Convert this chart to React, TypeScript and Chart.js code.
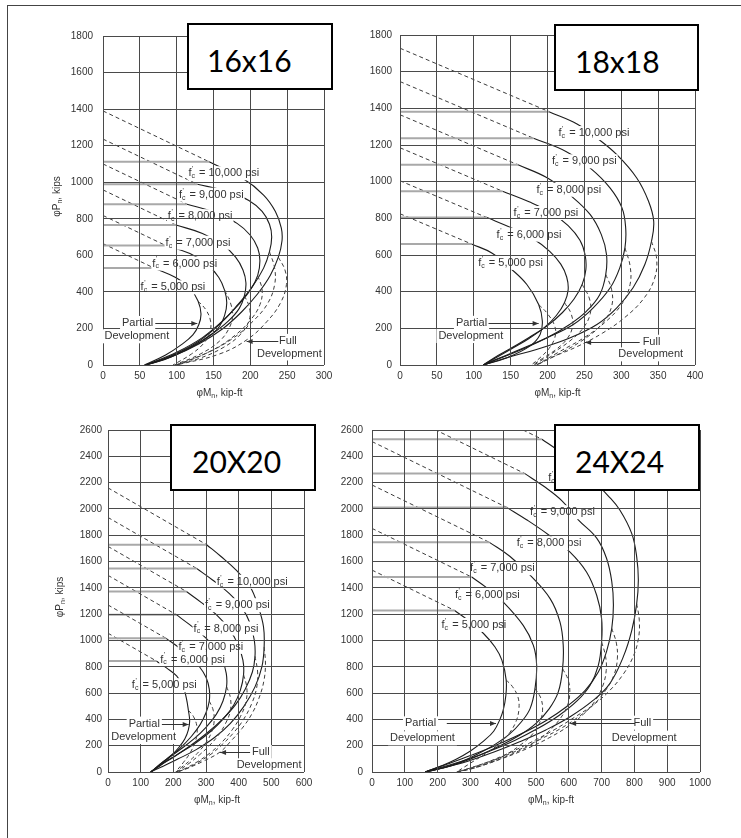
import React, { useEffect, useRef } from "react";
import { Chart, registerables } from "chart.js";
Chart.register(...registerables);

type Pt = [number, number];

const strengthLabels = ["5,000", "6,000", "7,000", "8,000", "9,000", "10,000"];

// ---------- 16x16 ----------
const xTicks16 = [0, 50, 100, 150, 200, 250, 300];
const yTicks16 = [0, 200, 400, 600, 800, 1000, 1200, 1400, 1600, 1800];
const axialTop16 = [664, 818, 958, 1100, 1236, 1390];
const capEnd16: Pt[] = [[69, 531], [85, 654], [99, 766], [114, 880], [128, 989], [144, 1112]];
const partial16: Pt[][] = [
  [[69, 531], [98, 480], [118, 420], [129, 350], [133, 280], [130, 220], [122, 165], [106, 110], [85, 55], [56, 0]],
  [[85, 654], [118, 610], [142, 550], [157, 480], [165, 410], [168, 340], [165, 270], [156, 200], [138, 140], [112, 80], [84, 30], [57, 0]],
  [[99, 766], [135, 720], [162, 660], [180, 590], [190, 520], [194, 450], [192, 380], [185, 310], [170, 240], [148, 170], [120, 100], [88, 40], [58, 0]],
  [[114, 880], [152, 835], [182, 775], [200, 710], [210, 640], [213, 570], [210, 490], [200, 410], [184, 330], [162, 240], [135, 150], [100, 70], [58, 0]],
  [[128, 989], [168, 950], [198, 900], [216, 840], [226, 770], [229, 700], [226, 620], [218, 530], [203, 430], [183, 330], [160, 230], [130, 130], [95, 55], [58, 0]],
  [[144, 1112], [190, 1020], [218, 930], [234, 840], [242, 750], [243, 680], [238, 590], [227, 490], [210, 390], [188, 290], [163, 200], [130, 115], [93, 45], [58, 0]],
];
const full16: Pt[][] = [
  [[129, 350], [140, 300], [146, 240], [145, 180], [137, 120], [120, 60], [95, 0]],
  [[165, 410], [173, 340], [176, 270], [171, 200], [158, 130], [132, 60], [97, 0]],
  [[192, 380], [199, 310], [198, 240], [186, 165], [163, 95], [130, 35], [98, 0]],
  [[210, 490], [216, 410], [213, 330], [201, 250], [180, 165], [148, 80], [100, 0]],
  [[226, 620], [233, 530], [233, 440], [224, 340], [205, 245], [176, 145], [138, 60], [100, 0]],
  [[238, 590], [247, 520], [249, 440], [241, 340], [223, 240], [196, 140], [158, 60], [100, 0]],
];
const fcLabelAt16: Pt[] = [[51, 425], [67, 555], [85, 669], [88, 814], [103, 932], [116, 1049]];
const partialText16: Pt[] = [[47, 230], [46, 157]];
const partialArrow16 = [71, 128, 230];
const fullText16: Pt[] = [[251, 132], [253, 63]];
const fullArrow16 = [238, 195, 132];

// ---------- 18x18 ----------
const xTicks18 = [0, 50, 100, 150, 200, 250, 300, 350, 400];
const yTicks18 = [0, 200, 400, 600, 800, 1000, 1200, 1400, 1600, 1800];
const axialTop18 = [825, 1005, 1185, 1365, 1546, 1728];
const capEnd18: Pt[] = [[97, 660], [118, 804], [139, 948], [160, 1092], [181, 1237], [202, 1382]];
const partial18: Pt[][] = [
  [[97, 660], [125, 610], [149, 530], [172, 439], [188, 330], [193, 240], [190, 167], [176, 103], [145, 40], [113, 0]],
  [[118, 804], [150, 750], [180, 690], [203, 620], [218, 550], [226, 480], [228, 410], [223, 340], [212, 270], [196, 205], [175, 145], [152, 90], [130, 40], [113, 0]],
  [[139, 948], [175, 890], [205, 830], [228, 760], [244, 680], [251, 600], [252, 520], [247, 440], [236, 360], [220, 285], [200, 215], [175, 150], [150, 90], [128, 40], [113, 0]],
  [[160, 1092], [200, 1020], [230, 929], [258, 820], [273, 711], [280, 603], [279, 494], [271, 385], [253, 294], [230, 221], [200, 150], [165, 85], [135, 35], [113, 0]],
  [[181, 1237], [225, 1165], [258, 1074], [285, 965], [301, 857], [306, 748], [305, 639], [298, 530], [285, 421], [262, 312], [235, 221], [200, 150], [160, 80], [133, 35], [113, 0]],
  [[202, 1382], [240, 1315], [267, 1238], [294, 1147], [321, 1020], [337, 893], [344, 784], [341, 675], [332, 548], [316, 421], [294, 312], [267, 221], [231, 149], [185, 85], [145, 40], [113, 0]],
];
const full18: Pt[][] = [
  [[188, 330], [200, 280], [210, 210], [210, 150], [202, 90], [190, 40], [178, 0]],
  [[223, 340], [232, 280], [234, 210], [226, 140], [210, 80], [193, 35], [180, 0]],
  [[247, 440], [257, 360], [258, 280], [248, 200], [230, 130], [205, 60], [182, 0]],
  [[279, 494], [287, 410], [287, 320], [275, 230], [253, 150], [220, 70], [185, 0]],
  [[305, 639], [312, 540], [312, 440], [302, 340], [280, 240], [250, 150], [215, 70], [185, 0]],
  [[341, 675], [348, 580], [345, 470], [330, 360], [305, 260], [275, 175], [240, 100], [205, 40], [186, 0]],
];
const fcLabelAt18: Pt[] = [[106, 557], [131, 711], [154, 829], [185, 956], [206, 1111], [215, 1265]];
const partialText18: Pt[] = [[97, 230], [96, 158]];
const partialArrow18 = [120, 188, 230];
const fullText18: Pt[] = [[341, 127], [340, 58]];
const fullArrow18 = [325, 251, 127];

// ---------- 20x20 ----------
const xTicks20 = [0, 100, 200, 300, 400, 500, 600];
const yTicks20 = [0, 200, 400, 600, 800, 1000, 1200, 1400, 1600, 1800, 2000, 2200, 2400, 2600];
const axialTop20 = [1055, 1270, 1495, 1715, 1935, 2160];
const capEnd20: Pt[] = [[148, 844], [178, 1016], [209, 1196], [240, 1372], [271, 1548], [302, 1728]];
const partial20: Pt[][] = [
  [[148, 844], [180, 790], [210, 730], [230, 650], [240, 560], [246, 470], [250, 390], [246, 320], [235, 250], [218, 190], [192, 120], [162, 55], [132, 0]],
  [[178, 1016], [215, 950], [250, 880], [280, 800], [300, 720], [310, 630], [310, 540], [300, 450], [282, 360], [255, 270], [220, 180], [180, 100], [150, 40], [132, 0]],
  [[209, 1196], [250, 1120], [290, 1040], [325, 950], [350, 850], [362, 750], [363, 650], [352, 540], [332, 440], [300, 340], [262, 250], [215, 160], [170, 80], [132, 0]],
  [[240, 1372], [285, 1290], [330, 1200], [370, 1090], [398, 970], [413, 850], [415, 740], [405, 620], [385, 510], [355, 410], [315, 310], [265, 215], [210, 130], [165, 60], [131, 0]],
  [[271, 1548], [320, 1460], [370, 1360], [410, 1250], [435, 1130], [448, 1000], [450, 880], [442, 760], [420, 630], [390, 510], [350, 400], [305, 300], [255, 205], [205, 120], [160, 50], [130, 0]],
  [[302, 1728], [345, 1640], [390, 1540], [435, 1408], [460, 1256], [476, 1104], [478, 951], [471, 799], [450, 647], [415, 495], [374, 368], [325, 260], [270, 170], [215, 100], [165, 40], [130, 0]],
];
const full20: Pt[][] = [
  [[246, 470], [262, 420], [272, 350], [272, 280], [264, 210], [250, 140], [230, 70], [207, 0]],
  [[310, 540], [322, 470], [325, 390], [318, 310], [302, 230], [280, 160], [252, 90], [225, 35], [208, 0]],
  [[363, 650], [375, 560], [374, 460], [360, 370], [338, 280], [310, 200], [280, 130], [248, 65], [210, 0]],
  [[415, 740], [425, 640], [422, 530], [405, 420], [380, 320], [350, 230], [315, 150], [275, 80], [235, 25], [210, 0]],
  [[450, 880], [458, 760], [455, 640], [440, 520], [415, 400], [385, 300], [350, 210], [315, 135], [270, 65], [235, 20], [210, 0]],
  [[478, 951], [482, 820], [477, 690], [462, 560], [440, 440], [410, 330], [378, 240], [343, 152], [290, 80], [245, 30], [212, 0]],
];
const fcLabelAt20: Pt[] = [[73, 660], [160, 855], [216, 951], [262, 1091], [297, 1268], [333, 1446]];
const partialText20: Pt[] = [[111, 368], [109, 266]];
const partialArrow20 = [165, 247, 368];
const fullText20: Pt[] = [[468, 152], [493, 51]];
const fullArrow20 = [435, 343, 152];

// ---------- 24x24 ----------
const xTicks24 = [0, 100, 200, 300, 400, 500, 600, 700, 800, 900, 1000];
const yTicks24 = [0, 200, 400, 600, 800, 1000, 1200, 1400, 1600, 1800, 2000, 2200, 2400, 2600];
const axialTop24 = [1535, 1852, 2182, 2512, 2837, 3162];
const capEnd24: Pt[] = [[252, 1228], [304, 1482], [358, 1746], [412, 2010], [465, 2270], [518, 2530]];
const partial24: Pt[][] = [
  [[252, 1228], [295, 1150], [340, 1053], [375, 950], [396, 850], [409, 700], [408, 580], [400, 470], [390, 400], [371, 310], [340, 235], [300, 160], [255, 95], [210, 45], [162, 0]],
  [[304, 1482], [350, 1400], [400, 1293], [461, 1115], [492, 963], [502, 811], [497, 634], [482, 482], [455, 380], [420, 290], [375, 210], [325, 140], [270, 75], [215, 30], [162, 0]],
  [[358, 1746], [420, 1640], [482, 1496], [543, 1318], [573, 1141], [583, 963], [581, 786], [568, 609], [540, 480], [500, 370], [450, 280], [390, 200], [330, 130], [270, 70], [215, 30], [162, 0]],
  [[412, 2010], [470, 1920], [540, 1800], [603, 1674], [654, 1521], [685, 1344], [700, 1166], [700, 989], [690, 811], [665, 660], [625, 540], [570, 430], [505, 330], [435, 240], [360, 160], [290, 95], [225, 45], [162, 0]],
  [[465, 2270], [525, 2170], [580, 2060], [629, 1917], [685, 1778], [715, 1625], [731, 1448], [736, 1270], [731, 1092], [715, 915], [690, 760], [650, 620], [595, 500], [530, 390], [455, 290], [375, 200], [300, 125], [230, 60], [162, 0]],
  [[518, 2530], [570, 2440], [625, 2330], [680, 2200], [720, 2100], [756, 1990], [792, 1812], [807, 1635], [812, 1458], [807, 1280], [792, 1077], [766, 875], [725, 672], [675, 546], [604, 420], [530, 320], [450, 230], [370, 150], [290, 80], [215, 30], [162, 0]],
];
const full24: Pt[][] = [
  [[409, 700], [428, 650], [445, 570], [448, 480], [440, 390], [420, 300], [390, 220], [350, 145], [305, 75], [258, 0]],
  [[497, 634], [515, 560], [520, 470], [512, 380], [490, 290], [455, 210], [410, 135], [355, 70], [300, 25], [258, 0]],
  [[581, 786], [598, 700], [603, 600], [595, 500], [572, 400], [535, 300], [490, 215], [430, 140], [365, 75], [305, 25], [258, 0]],
  [[700, 989], [712, 880], [714, 770], [703, 650], [680, 540], [645, 440], [600, 350], [540, 260], [470, 175], [400, 105], [330, 45], [260, 0]],
  [[731, 1092], [745, 980], [748, 860], [738, 740], [712, 620], [675, 510], [630, 420], [575, 330], [510, 245], [440, 160], [370, 90], [305, 35], [260, 0]],
  [[807, 1280], [815, 1150], [812, 1010], [795, 870], [765, 740], [725, 620], [680, 520], [620, 420], [555, 320], [480, 220], [405, 130], [330, 55], [262, 0]],
];
const fcLabelAt24: Pt[] = [[212, 1118], [253, 1346], [299, 1549], [441, 1739], [482, 1975], [537, 2233]];
const partialText24: Pt[] = [[148, 370], [154, 256]];
const partialArrow24 = [228, 378, 375];
const fullText24: Pt[] = [[824, 375], [830, 261]];
const fullArrow24 = [802, 604, 375];

const FONT = '"Liberation Sans", Arial, Helvetica, sans-serif';
const INK = "#333";

type PanelCfg = {
  key: string;
  left: number; top: number; width: number; height: number;
  yAxisW: number; xAxisH: number; padTop: number; padRight: number;
  yTickPad: number; xTickPad: number;
  xTitleDx: number; yTitle: boolean; yTitleDx: number;
  xTicks: number[]; yTicks: number[];
  axialTop: number[]; capEnd: Pt[]; partial: Pt[][]; full: Pt[][];
  fcAt: Pt[]; partialText: Pt[]; partialArrow: number[]; fullText: Pt[]; fullArrow: number[];
  box: { left: number; top: number; w: number; h: number; text: string; padL: number };
};

const panels: PanelCfg[] = [
  {
    key: "16", left: 40, top: 20, width: 300, height: 390, yAxisW: 63, xAxisH: 45, padTop: 15, padRight: 16,
    yTickPad: 10, xTickPad: 5, xTitleDx: 6, yTitle: true, yTitleDx: -46,
    xTicks: xTicks16, yTicks: yTicks16, axialTop: axialTop16, capEnd: capEnd16, partial: partial16, full: full16,
    fcAt: fcLabelAt16, partialText: partialText16, partialArrow: partialArrow16, fullText: fullText16, fullArrow: fullArrow16,
    box: { left: 187, top: 23, w: 146, h: 67, text: "16x16", padL: 18 },
  },
  {
    key: "18", left: 345, top: 20, width: 396, height: 390, yAxisW: 55, xAxisH: 45, padTop: 15, padRight: 46,
    yTickPad: 8, xTickPad: 5, xTitleDx: 10, yTitle: false, yTitleDx: -46,
    xTicks: xTicks18, yTicks: yTicks18, axialTop: axialTop18, capEnd: capEnd18, partial: partial18, full: full18,
    fcAt: fcLabelAt18, partialText: partialText18, partialArrow: partialArrow18, fullText: fullText18, fullArrow: fullArrow18,
    box: { left: 554, top: 24, w: 145, h: 67, text: "18x18", padL: 19 },
  },
  {
    key: "20", left: 40, top: 415, width: 290, height: 400, yAxisW: 68, xAxisH: 43, padTop: 15, padRight: 26,
    yTickPad: 6, xTickPad: 5, xTitleDx: 11, yTitle: true, yTitleDx: -48,
    xTicks: xTicks20, yTicks: yTicks20, axialTop: axialTop20, capEnd: capEnd20, partial: partial20, full: full20,
    fcAt: fcLabelAt20, partialText: partialText20, partialArrow: partialArrow20, fullText: fullText20, fullArrow: fullArrow20,
    box: { left: 170, top: 424, w: 146, h: 67, text: "20X20", padL: 20 },
  },
  {
    key: "24", left: 330, top: 415, width: 411, height: 400, yAxisW: 42, xAxisH: 43, padTop: 15, padRight: 41,
    yTickPad: 9, xTickPad: 5, xTitleDx: 15, yTitle: false, yTitleDx: -46,
    xTicks: xTicks24, yTicks: yTicks24, axialTop: axialTop24, capEnd: capEnd24, partial: partial24, full: full24,
    fcAt: fcLabelAt24, partialText: partialText24, partialArrow: partialArrow24, fullText: fullText24, fullArrow: fullArrow24,
    box: { left: 554, top: 424, w: 146, h: 67, text: "24X24", padL: 19 },
  },
];

const toXY = (pts: Pt[]) => pts.map(([x, y]) => ({ x, y }));
const lineBase = { showLine: true, pointRadius: 0, pointHoverRadius: 0, fill: false };

function buildDatasets(cfg: PanelCfg) {
  const ds: any[] = [];
  cfg.capEnd.forEach(([m, p]) => {
    ds.push({ ...lineBase, data: [{ x: 0, y: p }, { x: m, y: p }], borderColor: "#a9a9a9", borderWidth: 2 });
  });
  cfg.axialTop.forEach((p0, i) => {
    ds.push({ ...lineBase, data: [{ x: 0, y: p0 }, { x: cfg.capEnd[i][0], y: cfg.capEnd[i][1] }], borderColor: "#3c3c3c", borderWidth: 1, borderDash: [4, 3] });
  });
  cfg.full.forEach((pts) => {
    ds.push({ ...lineBase, data: toXY(pts), borderColor: "#3c3c3c", borderWidth: 1, borderDash: [4, 3], tension: 0.4 });
  });
  cfg.partial.forEach((pts) => {
    ds.push({ ...lineBase, data: toXY(pts), borderColor: "#1c1c1c", borderWidth: 1.1, tension: 0.4 });
  });
  return ds;
}

function fcMetrics(ctx: CanvasRenderingContext2D, s: string) {
  ctx.font = `11px ${FONT}`;
  const wf = ctx.measureText("f").width;
  const rest = " = " + s + " psi";
  const wr = ctx.measureText(rest).width;
  ctx.font = `7px ${FONT}`;
  const wc = ctx.measureText("c").width;
  return { wf, wc, wr, rest, w: wf + wc + 1 + wr };
}

function drawNote(ctx: CanvasRenderingContext2D, x: number, y: number, text: string) {
  ctx.font = `11px ${FONT}`;
  const w = ctx.measureText(text).width;
  ctx.fillStyle = "#fff";
  ctx.fillRect(x - w / 2 - 2, y - 7, w + 4, 14);
  ctx.fillStyle = INK;
  ctx.textAlign = "center";
  ctx.textBaseline = "middle";
  ctx.fillText(text, x, y);
}

function drawArrow(ctx: CanvasRenderingContext2D, x1: number, x2: number, y: number) {
  ctx.strokeStyle = INK;
  ctx.lineWidth = 1;
  ctx.beginPath();
  ctx.moveTo(x1, y + 0.5);
  ctx.lineTo(x2, y + 0.5);
  ctx.stroke();
  const d = x2 > x1 ? 1 : -1;
  ctx.fillStyle = INK;
  ctx.beginPath();
  ctx.moveTo(x2, y + 0.5);
  ctx.lineTo(x2 - d * 6, y - 2);
  ctx.lineTo(x2 - d * 6, y + 3);
  ctx.closePath();
  ctx.fill();
}

function drawSubText(ctx: CanvasRenderingContext2D, cx: number, cy: number, pre: string, sub: string, post: string, rotate: boolean) {
  ctx.save();
  ctx.translate(cx, cy);
  if (rotate) ctx.rotate(-Math.PI / 2);
  ctx.font = `10px ${FONT}`;
  const w1 = ctx.measureText(pre).width;
  const w3 = ctx.measureText(post).width;
  ctx.font = `7px ${FONT}`;
  const w2 = ctx.measureText(sub).width;
  let x = -(w1 + w2 + w3) / 2;
  ctx.fillStyle = INK;
  ctx.textAlign = "left";
  ctx.textBaseline = "middle";
  ctx.font = `10px ${FONT}`;
  ctx.fillText(pre, x, 0);
  x += w1;
  ctx.font = `7px ${FONT}`;
  ctx.fillText(sub, x, 3);
  x += w2;
  ctx.font = `10px ${FONT}`;
  ctx.fillText(post, x, 0);
  ctx.restore();
}

function makeAnnot(cfg: PanelCfg) {
  return {
    id: "annot" + cfg.key,
    afterDatasetsDraw(chart: any) {
      const { ctx } = chart;
      const xs = chart.scales.x;
      const ys = chart.scales.y;
      ctx.save();
      cfg.fcAt.forEach(([m, p]: Pt, i: number) => {
        const mt = fcMetrics(ctx, strengthLabels[i]);
        const x = xs.getPixelForValue(m);
        const y = ys.getPixelForValue(p);
        ctx.fillStyle = "#fff";
        ctx.fillRect(x - 1, y - 7, mt.w + 2, 14);
      });
      ctx.restore();
    },
    afterDraw(chart: any) {
      const { ctx, chartArea } = chart;
      const xs = chart.scales.x;
      const ys = chart.scales.y;
      ctx.save();
      ctx.beginPath();
      ctx.rect(chartArea.left, chartArea.top, chartArea.right - chartArea.left, chartArea.bottom - chartArea.top);
      ctx.clip();
      cfg.fcAt.forEach(([m, p]: Pt, i: number) => {
        const mt = fcMetrics(ctx, strengthLabels[i]);
        const x = xs.getPixelForValue(m);
        const y = ys.getPixelForValue(p);
        ctx.fillStyle = INK;
        ctx.textAlign = "left";
        ctx.textBaseline = "middle";
        ctx.font = `11px ${FONT}`;
        ctx.fillText("f", x, y);
        ctx.font = `7px ${FONT}`;
        ctx.fillText("'", x + mt.wf + 0.5, y - 4);
        ctx.fillText("c", x + mt.wf, y + 3);
        ctx.font = `11px ${FONT}`;
        ctx.fillText(mt.rest, x + mt.wf + mt.wc + 1, y);
      });
      const pNames = ["Partial", "Development"];
      cfg.partialText.forEach(([m, p]: Pt, i: number) => drawNote(ctx, xs.getPixelForValue(m), ys.getPixelForValue(p), pNames[i]));
      drawArrow(ctx, xs.getPixelForValue(cfg.partialArrow[0]), xs.getPixelForValue(cfg.partialArrow[1]), Math.round(ys.getPixelForValue(cfg.partialArrow[2])));
      const fNames = ["Full", "Development"];
      cfg.fullText.forEach(([m, p]: Pt, i: number) => drawNote(ctx, xs.getPixelForValue(m), ys.getPixelForValue(p), fNames[i]));
      drawArrow(ctx, xs.getPixelForValue(cfg.fullArrow[0]), xs.getPixelForValue(cfg.fullArrow[1]), Math.round(ys.getPixelForValue(cfg.fullArrow[2])));
      ctx.restore();

      const cx = (chartArea.left + chartArea.right) / 2 + cfg.xTitleDx;
      drawSubText(ctx, cx, chartArea.bottom + 28, "\u03c6M", "n", ", kip-ft", false);
      if (cfg.yTitle) {
        drawSubText(ctx, chartArea.left + cfg.yTitleDx, (chartArea.top + chartArea.bottom) / 2 - 4, "\u03c6P", "n", ", kips", true);
      }
    },
  };
}

function buildConfig(cfg: PanelCfg): any {
  const tickFont = { family: FONT, size: 10 };
  return {
    type: "scatter",
    data: { datasets: buildDatasets(cfg) },
    options: {
      responsive: false,
      animation: false,
      devicePixelRatio: 1,
      events: [],
      layout: { padding: { left: 0, top: cfg.padTop, right: cfg.padRight, bottom: 0 } },
      plugins: { legend: { display: false }, tooltip: { enabled: false } },
      scales: {
        x: {
          type: "linear",
          min: cfg.xTicks[0],
          max: cfg.xTicks[cfg.xTicks.length - 1],
          afterBuildTicks: (ax: any) => { ax.ticks = cfg.xTicks.map((v) => ({ value: v })); },
          afterFit: (s: any) => { s.height = cfg.xAxisH; },
          grid: { color: "#4a4a4a", lineWidth: 1, drawTicks: false, z: 1 },
          border: { display: false },
          ticks: { padding: cfg.xTickPad, color: INK, font: tickFont, maxRotation: 0, autoSkip: false, callback: (v: any) => String(v) },
        },
        y: {
          type: "linear",
          min: cfg.yTicks[0],
          max: cfg.yTicks[cfg.yTicks.length - 1],
          afterBuildTicks: (ax: any) => { ax.ticks = cfg.yTicks.map((v) => ({ value: v })); },
          afterFit: (s: any) => { s.width = cfg.yAxisW; },
          grid: { color: "#4a4a4a", lineWidth: 1, drawTicks: false, z: 1 },
          border: { display: false },
          ticks: { padding: cfg.yTickPad, color: INK, font: tickFont, autoSkip: false, callback: (v: any) => String(v) },
        },
      },
    },
    plugins: [makeAnnot(cfg)],
  };
}

function Panel({ cfg }: { cfg: PanelCfg }) {
  const ref = useRef<HTMLCanvasElement>(null);
  useEffect(() => {
    const chart = new Chart(ref.current as HTMLCanvasElement, buildConfig(cfg));
    return () => chart.destroy();
  }, [cfg]);
  return (
    <canvas
      ref={ref}
      width={cfg.width}
      height={cfg.height}
      style={{ position: "absolute", left: cfg.left, top: cfg.top, width: cfg.width, height: cfg.height }}
    />
  );
}

export default function App() {
  return (
    <div style={{ position: "fixed", left: 0, top: 0, width: 741, height: 838, overflow: "hidden", background: "#fff" }}>
      <div style={{ position: "absolute", left: 7, top: 5, width: 734, height: 1, background: "#444" }} />
      <div style={{ position: "absolute", left: 7, top: 5, width: 1, height: 833, background: "#444" }} />
      {panels.map((p) => (
        <Panel key={p.key} cfg={p} />
      ))}
      {panels.map((p) => (
        <div
          key={"b" + p.key}
          style={{
            position: "absolute",
            left: p.box.left,
            top: p.box.top,
            width: p.box.w,
            height: p.box.h,
            border: "2px solid #000",
            background: "#fff",
            boxSizing: "border-box",
            display: "flex",
            alignItems: "center",
            paddingLeft: p.box.padL,
            paddingTop: 6,
            fontFamily: "Lato, 'Open Sans', sans-serif",
            fontSize: 30,
            color: "#000",
            lineHeight: 1,
          }}
        >
          {p.box.text}
        </div>
      ))}
    </div>
  );
}
